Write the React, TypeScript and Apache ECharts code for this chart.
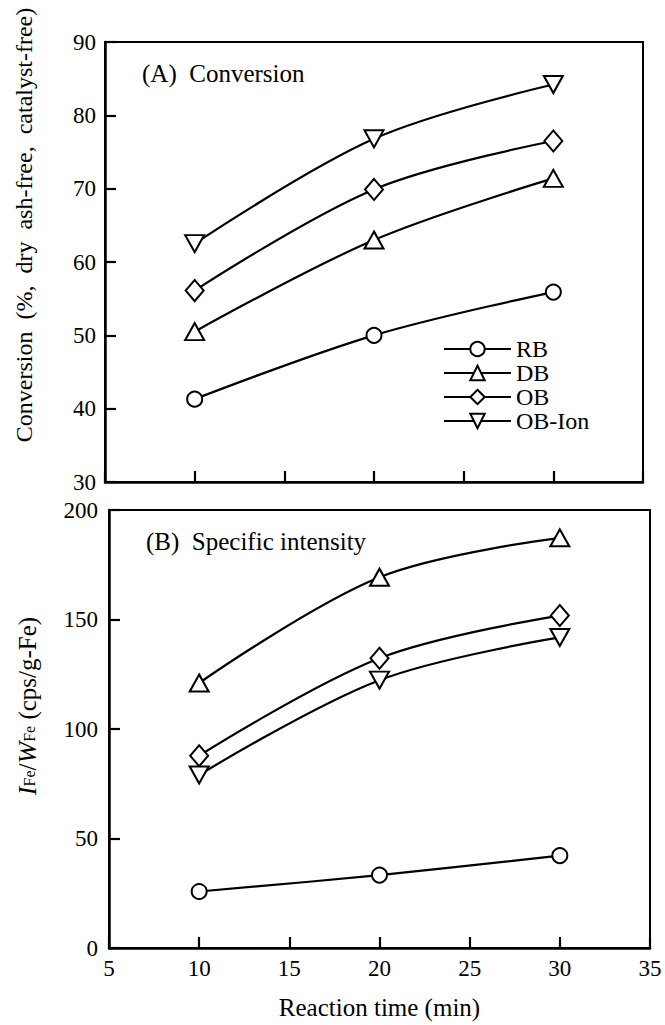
import React, { useEffect, useRef } from "react";
import * as echarts from "echarts";

const times = [10, 20, 30];
const seriesNames = ["RB", "DB", "OB", "OB-Ion"];
const conversionRB = [41.3, 50.0, 55.9];
const conversionDB = [50.5, 63.0, 71.4];
const conversionOB = [56.1, 69.9, 76.5];
const conversionOBIon = [62.5, 76.8, 84.2];
const intensityRB = [25.8, 33.3, 42.2];
const intensityDB = [121.0, 169.3, 187.3];
const intensityOB = [87.8, 132.3, 151.8];
const intensityOBIon = [79.0, 122.3, 141.8];
const xTicks = [5, 10, 15, 20, 25, 30, 35];

const FONT = '"Liberation Serif", "Times New Roman", serif';

const symbols: Record<string, { symbol: string; size: number | number[]; rotate: number }> = {
  RB: { symbol: "emptyCircle", size: 15, rotate: 0 },
  DB: { symbol: "emptyTriangle", size: [19, 17], rotate: 0 },
  OB: { symbol: "emptyDiamond", size: [18, 21], rotate: 0 },
  "OB-Ion": { symbol: "emptyTriangle", size: [19, 17], rotate: 180 },
};

function pair(vals: number[]) {
  return times.map((t, i) => [t, vals[i]]);
}

function mkSeries(name: string, vals: number[], idx: number, showLegend: boolean) {
  const s = symbols[name];
  return {
    name: showLegend ? name : name + " ",
    type: "line",
    xAxisIndex: idx,
    yAxisIndex: idx,
    data: pair(vals),
    smooth: 0.35,
    symbol: s.symbol,
    symbolSize: s.size,
    symbolRotate: s.rotate,
    color: "#000",
    lineStyle: { color: "#000", width: 2.2 },
    itemStyle: { color: "#000", borderWidth: 1.3 },
    z: 3,
  };
}

export default function App() {
  const ref = useRef<HTMLDivElement>(null);
  useEffect(() => {
    if (!ref.current) return;
    document.body.style.margin = "0";
    const chart = echarts.init(ref.current, null, { renderer: "svg" });
    const axisCommon = {
      axisLine: { show: true, lineStyle: { color: "#000", width: 2.5 } },
      axisTick: { show: true, inside: true, length: 11, lineStyle: { color: "#000", width: 2.2 } },
      splitLine: { show: false },
      axisLabel: { color: "#000", fontFamily: FONT, fontSize: 23 },
    };
    chart.setOption({
      animation: false,
      backgroundColor: "#fff",
      grid: [
        { left: 105, right: 22, top: 42, height: 440, show: true, borderColor: "#000", borderWidth: 2 },
        { left: 109, right: 15, top: 510, height: 438, show: true, borderColor: "#000", borderWidth: 2 },
      ],
      xAxis: [
        {
          ...axisCommon,
          type: "value",
          gridIndex: 0,
          min: 5,
          max: 35,
          interval: 5,
          axisLabel: { show: false },
        },
        {
          ...axisCommon,
          type: "value",
          gridIndex: 1,
          min: 5,
          max: 35,
          interval: 5,
          axisLabel: {
            ...axisCommon.axisLabel,
            margin: 9,
            formatter: (v: number) => (xTicks.includes(v) ? String(v) : ""),
          },
          name: "Reaction time (min)",
          nameLocation: "middle",
          nameGap: 47,
          nameTextStyle: { color: "#000", fontFamily: FONT, fontSize: 25 },
        },
      ],
      yAxis: [
        {
          ...axisCommon,
          type: "value",
          gridIndex: 0,
          min: 30,
          max: 90,
          interval: 10,
          axisLabel: { ...axisCommon.axisLabel, margin: 9 },
        },
        {
          ...axisCommon,
          type: "value",
          gridIndex: 1,
          min: 0,
          max: 200,
          interval: 50,
          axisLabel: { ...axisCommon.axisLabel, margin: 11 },
        },
      ],
      legend: {
        data: seriesNames,
        orient: "vertical",
        left: 443,
        top: 337,
        padding: 0,
        itemWidth: 67,
        itemHeight: 18,
        itemGap: 0,
        textStyle: { color: "#000", fontFamily: FONT, fontSize: 24, lineHeight: 24 },
      },
      graphic: [
        {
          type: "text",
          left: 142,
          top: 61,
          style: { text: "(A)  Conversion", font: `25px ${FONT}`, fill: "#000" },
        },
        {
          type: "text",
          left: 146,
          top: 529,
          style: { text: "(B)  Specific intensity", font: `25px ${FONT}`, fill: "#000" },
        },
        {
          type: "text",
          x: 24,
          y: 225,
          rotation: Math.PI / 2,
          style: {
            text: "Conversion  (%,  dry  ash-free,  catalyst-free)",
            font: `24px ${FONT}`,
            fill: "#000",
            align: "center",
            verticalAlign: "middle",
          },
        },
        {
          type: "text",
          x: 25,
          y: 706,
          rotation: Math.PI / 2,
          style: {
            text: "{i|I}{s|Fe}{n|/}{i|W}{s|Fe}{n| (cps/g-Fe)}",
            fill: "#000",
            align: "center",
            verticalAlign: "middle",
            rich: {
              i: { fontFamily: FONT, fontSize: 26, fontStyle: "italic", lineHeight: 30, verticalAlign: "bottom", fill: "#000" },
              s: { fontFamily: FONT, fontSize: 16, lineHeight: 16, verticalAlign: "bottom", fill: "#000", padding: [0, 0, 3, 0] },
              n: { fontFamily: FONT, fontSize: 25, lineHeight: 30, verticalAlign: "bottom", fill: "#000" },
            },
          },
        },
      ],
      series: [
        mkSeries("RB", conversionRB, 0, true),
        mkSeries("DB", conversionDB, 0, true),
        mkSeries("OB", conversionOB, 0, true),
        mkSeries("OB-Ion", conversionOBIon, 0, true),
        mkSeries("RB", intensityRB, 1, false),
        mkSeries("DB", intensityDB, 1, false),
        mkSeries("OB", intensityOB, 1, false),
        mkSeries("OB-Ion", intensityOBIon, 1, false),
      ],
    });
    return () => chart.dispose();
  }, []);
  return <div ref={ref} style={{ width: 665, height: 1025 }} />;
}
